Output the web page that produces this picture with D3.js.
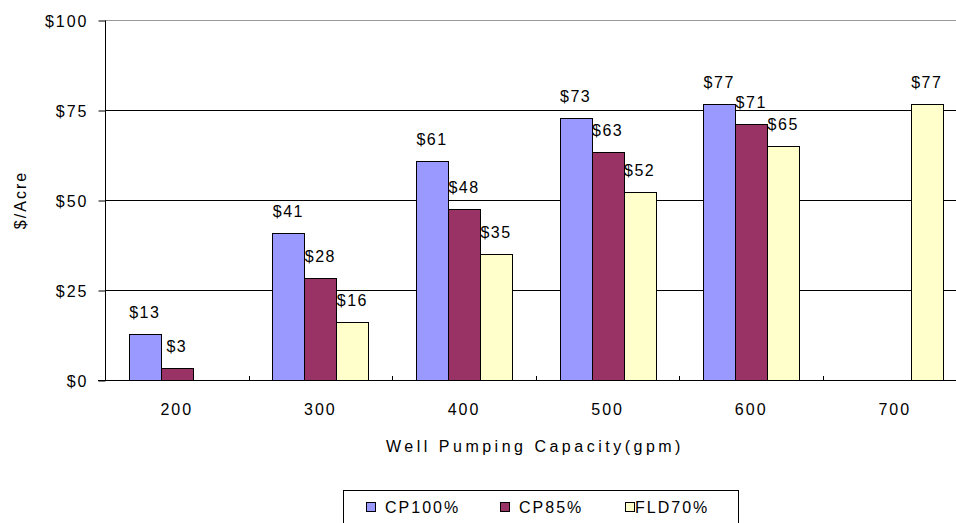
<!DOCTYPE html>
<html><head><meta charset="utf-8">
<script src="https://cdn.jsdelivr.net/npm/d3@7"></script>
<style>
html,body{margin:0;padding:0;background:#fff;}
text{font-family:"Liberation Sans",Arial,sans-serif;fill:#000;}
</style></head>
<body>
<svg id="c" width="956" height="523"></svg>
<script>
const categories = ["200","300","400","500","600","700"];
const seriesNames = ["CP100%","CP85%","FLD70%"];
const cp100 = [12.7, 40.9, 60.9, 72.7, 76.7, null];
const cp85  = [3.2, 28.2, 47.6, 63.4, 71.0, null];
const fld70 = [null, 16.1, 34.9, 52.1, 65.0, 76.6];
const yTicks = [0, 25, 50, 75, 100];
const colors = ["#9999FF","#993366","#FFFFCC"];

(function(){
const seriesValues = [cp100, cp85, fld70];
const svg = d3.select("#c");
const pLeft = 105, pTop = 20, pBottom = 380, bandW = 143.6;
const x = d3.scaleBand().domain(categories).range([pLeft, pLeft + bandW*categories.length]).padding(0);
const xs = d3.scaleBand().domain(seriesNames).range([23.8, bandW-23.8]).padding(0);
const y = d3.scaleLinear().domain([0,100]).range([pBottom, pTop]);

// gridlines
svg.append("g").selectAll("line").data(yTicks).join("line")
  .attr("x1", pLeft).attr("x2", 956)
  .attr("y1", d=>y(d)+0.5).attr("y2", d=>y(d)+0.5)
  .attr("stroke", d=> d===100 ? "#999" : "#000").attr("stroke-width",1);

// y axis
const yAxis = d3.axisLeft(y).tickValues(yTicks).tickSize(7).tickPadding(10).tickFormat(d=>"$"+d);
const gy = svg.append("g").attr("transform",`translate(${pLeft+0.5},0.5)`).call(yAxis);
gy.select(".domain").attr("stroke","#000").attr("d",`M0,${pTop}V${pBottom}`);
gy.selectAll("line").attr("stroke","#000");
gy.selectAll("text").attr("font-size","16px").attr("letter-spacing","2px")
  .attr("font-family","'Liberation Sans',Arial,sans-serif").attr("fill","#000").attr("dy","0.35em");

// x axis
const xAxis = d3.axisBottom(x).tickSize(0).tickPadding(23);
const gx = svg.append("g").attr("transform",`translate(0,${pBottom+0.5})`).call(xAxis);
gx.select(".domain").attr("stroke","#000").attr("d",`M${pLeft-7},0H956`);
gx.selectAll("text").attr("font-size","16px").attr("letter-spacing","2px")
  .attr("font-family","'Liberation Sans',Arial,sans-serif").attr("fill","#000");
// category boundary ticks (inside)
svg.append("g").selectAll("line").data(categories.slice(1)).join("line")
  .attr("x1", d=>Math.round(x(d))+0.5).attr("x2", d=>Math.round(x(d))+0.5)
  .attr("y1", pBottom-4).attr("y2", pBottom).attr("stroke","#000");

// bars
const barData = [];
seriesValues.forEach((vals,si)=>vals.forEach((v,ci)=>{ if(v!=null) barData.push({s:seriesNames[si], c:categories[ci], v, si}); }));
svg.append("g").selectAll("rect").data(barData).join("rect")
  .attr("x", d=>Math.round(x(d.c)+xs(d.s))+0.5)
  .attr("y", d=>Math.round(y(d.v))+0.5)
  .attr("width", Math.round(xs.bandwidth()))
  .attr("height", d=>pBottom-Math.round(y(d.v)))
  .attr("fill", d=>colors[d.si]).attr("stroke","#000").attr("stroke-width",1);

// labels
svg.append("g").selectAll("text").data(barData).join("text")
  .attr("x", d=>x(d.c)+xs(d.s)+xs.bandwidth()/2)
  .attr("y", d=>y(d.v)-16)
  .attr("text-anchor","middle")
  .attr("font-size","16px").attr("letter-spacing","1.5px")
  .text(d=>"$"+Math.round(d.v));

// axis titles
svg.append("text").attr("x",535).attr("y",452).attr("text-anchor","middle")
  .attr("font-size","16px").attr("letter-spacing","3.5px").text("Well Pumping Capacity(gpm)");
svg.append("text").attr("transform","translate(26,200) rotate(-90)").attr("text-anchor","middle")
  .attr("font-size","16px").attr("letter-spacing","2px").text("$/Acre");

// legend
const lg = svg.append("g");
lg.append("rect").attr("x",343.5).attr("y",490.5).attr("width",395).attr("height",50).attr("fill","#fff").attr("stroke","#000");
const legX = [366, 500, 625];
seriesNames.forEach((n,i)=>{
  lg.append("rect").attr("x",legX[i]+0.5).attr("y",502.5).attr("width",9).attr("height",9).attr("fill",colors[i]).attr("stroke","#000");
  lg.append("text").attr("x",legX[i]+(i===2?10:19)).attr("y",513).attr("font-size","16px").attr("letter-spacing","2px").text(n);
});
})();
</script>
</body></html>
